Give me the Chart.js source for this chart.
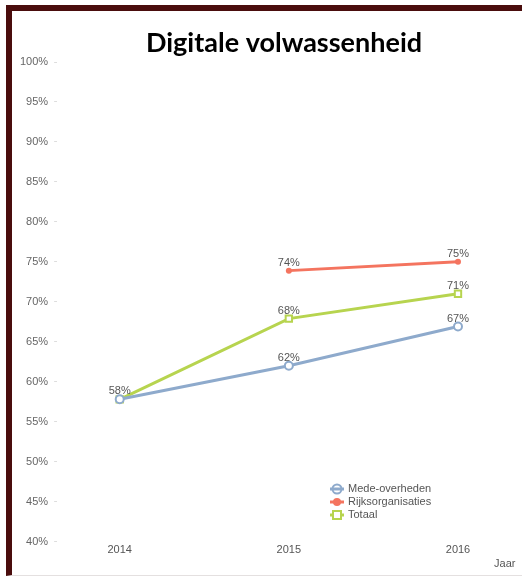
<!DOCTYPE html>
<html>
<head>
<meta charset="utf-8">
<script src="https://cdn.jsdelivr.net/npm/chart.js@4/dist/chart.umd.min.js"></script>
<style>
    html, body { margin: 0; padding: 0; background: #fff; }
    #frame {
        position: absolute; left: 0; top: 0; width: 522px; height: 579px;
    }
    #border {
        position: absolute; left: 6px; top: 5px; width: 516px; height: 571px;
        border-top: 6px solid #4a0d0d; border-left: 6px solid #4a0d0d;
        border-bottom: 1px solid #e4e0e0; box-sizing: border-box;
    }
    canvas { position: absolute; left: 0; top: 0; }
</style>
</head>
<body>
<div id="frame">
    <div id="border"></div>
    <canvas id="chart" width="522" height="579"></canvas>
</div>
<script>
    const years = [2014, 2015, 2016];
    const yTicks = [40, 45, 50, 55, 60, 65, 70, 75, 80, 85, 90, 95, 100];
    const seriesNames = ['Mede-overheden', 'Rijksorganisaties', 'Totaal'];
    const medeYears = [2014, 2015, 2016];
    const medeValues = [57.8, 62, 66.9];
    const rijksYears = [2015, 2016];
    const rijksValues = [73.9, 75];
    const totaalYears = [2014, 2015, 2016];
    const totaalValues = [57.8, 67.9, 71];
    const colors = ['#8eaacc', '#f4745f', '#b7d44f'];

    function toPoints(xs, ys) {
        return xs.map((x, i) => ({ x: x, y: ys[i] }));
    }

    // value labels above each point (skip a label already drawn at the same spot)
    const valueLabels = {
        id: 'valueLabels',
        afterDatasetsDraw(chart) {
            const ctx = chart.ctx;
            const done = new Set();
            ctx.save();
            ctx.font = '11px "Liberation Sans", Arial, sans-serif';
            ctx.fillStyle = '#555';
            ctx.textAlign = 'center';
            ctx.textBaseline = 'middle';
            chart.data.datasets.forEach((ds, i) => {
                chart.getDatasetMeta(i).data.forEach((pt, j) => {
                    const text = Math.round(ds.data[j].y) + '%';
                    const key = Math.round(pt.x) + ':' + Math.round(pt.y) + ':' + text;
                    if (done.has(key)) return;
                    done.add(key);
                    ctx.fillText(text, pt.x, pt.y - 8);
                });
            });
            ctx.restore();
        }
    };

    // title and legend drawn on the canvas
    const decorations = {
        id: 'decorations',
        afterDraw(chart) {
            const ctx = chart.ctx;
            ctx.save();
            ctx.font = 'bold 27px Lato, "Open Sans", sans-serif';
            ctx.fillStyle = '#000';
            ctx.textAlign = 'center';
            ctx.textBaseline = 'middle';
            ctx.fillText('Digitale volwassenheid', 284, 43);

            const lx = 337, ly = 489, rowH = 13;
            ctx.font = '11px "Liberation Sans", Arial, sans-serif';
            ctx.textAlign = 'left';
            chart.data.datasets.forEach((ds, i) => {
                const y = ly + i * rowH;
                ctx.strokeStyle = ds.borderColor;
                ctx.lineWidth = 3;
                ctx.beginPath();
                ctx.moveTo(lx - 7, y);
                ctx.lineTo(lx + 7, y);
                ctx.stroke();
                ctx.lineWidth = 2;
                if (ds.pointStyle === 'rect') {
                    ctx.fillStyle = '#fff';
                    ctx.fillRect(lx - 4, y - 4, 8, 8);
                    ctx.strokeRect(lx - 4, y - 4, 8, 8);
                } else if (i === 0) {
                    ctx.beginPath();
                    ctx.arc(lx, y, 4.5, 0, Math.PI * 2);
                    ctx.stroke();
                    ctx.beginPath();
                    ctx.moveTo(lx - 5, y);
                    ctx.lineTo(lx + 5, y);
                    ctx.stroke();
                } else {
                    ctx.fillStyle = ds.borderColor;
                    ctx.beginPath();
                    ctx.arc(lx, y, 4, 0, Math.PI * 2);
                    ctx.fill();
                }
                ctx.fillStyle = '#555';
                ctx.fillText(ds.label, lx + 11, y);
            });
            ctx.restore();
        }
    };

    new Chart(document.getElementById('chart'), {
        type: 'line',
        data: {
            datasets: [
                {
                    label: seriesNames[0],
                    data: toPoints(medeYears, medeValues),
                    borderColor: colors[0],
                    backgroundColor: '#fff',
                    borderWidth: 3,
                    pointStyle: 'circle',
                    pointRadius: 4,
                    pointBorderWidth: 2
                },
                {
                    label: seriesNames[1],
                    data: toPoints(rijksYears, rijksValues),
                    borderColor: colors[1],
                    backgroundColor: colors[1],
                    borderWidth: 3,
                    pointStyle: 'circle',
                    pointRadius: 3,
                    pointBorderWidth: 0
                },
                {
                    label: seriesNames[2],
                    data: toPoints(totaalYears, totaalValues),
                    borderColor: colors[2],
                    backgroundColor: '#fff',
                    borderWidth: 3,
                    pointStyle: 'rect',
                    pointRadius: 4.5,
                    pointBorderWidth: 2
                }
            ]
        },
        options: {
            responsive: false,
            animation: false,
            events: [],
            layout: { padding: { left: 14, right: 5, top: 62, bottom: 4 } },
            plugins: {
                legend: { display: false },
                tooltip: { enabled: false }
            },
            scales: {
                x: {
                    type: 'linear',
                    min: 2013.63,
                    max: 2016.34,
                    afterBuildTicks: axis => { axis.ticks = years.map(v => ({ value: v })); },
                    ticks: {
                        color: '#555',
                        font: { family: '"Liberation Sans", Arial, sans-serif', size: 11 },
                        padding: -6,
                        callback: v => String(v)
                    },
                    grid: { display: false },
                    border: { display: false },
                    title: {
                        display: true,
                        text: 'Jaar',
                        align: 'end',
                        color: '#555',
                        font: { family: '"Liberation Sans", Arial, sans-serif', size: 11 },
                        padding: { top: 7 }
                    }
                },
                y: {
                    min: 40,
                    max: 100,
                    afterBuildTicks: axis => { axis.ticks = yTicks.map(v => ({ value: v })); },
                    ticks: {
                        color: '#666',
                        font: { family: '"Liberation Sans", Arial, sans-serif', size: 11 },
                        padding: 6,
                        callback: v => v + '%'
                    },
                    grid: {
                        drawOnChartArea: false,
                        drawTicks: true,
                        tickLength: 3,
                        color: '#ddd'
                    },
                    border: { display: false }
                }
            }
        },
        plugins: [valueLabels, decorations]
    });
</script>
</body>
</html>
